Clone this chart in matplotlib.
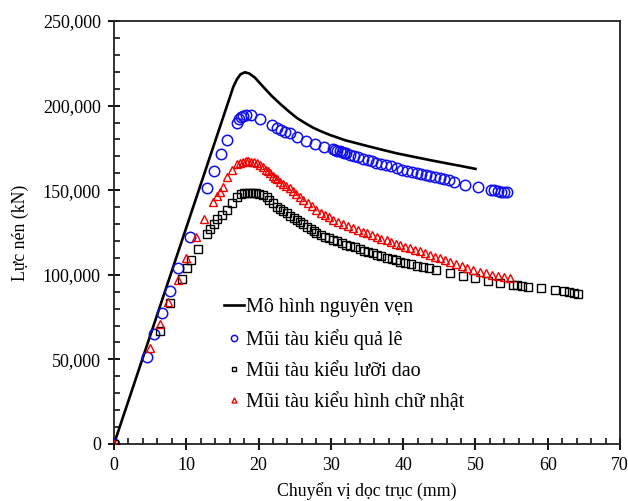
import matplotlib
matplotlib.use("Agg")
import matplotlib.pyplot as plt
from matplotlib.ticker import MultipleLocator, FuncFormatter

# ---- data ----
model_x = [0, 16.5, 17.0, 17.5, 18.1, 18.7, 19.5, 20.6, 21.8, 23.0, 24.2, 25.3, 26.5, 27.6,
           28.8, 29.9, 32.0, 34.5, 37.0, 39.1, 41.5, 43.7, 46.0, 48.0, 50.0]
model_y = [0, 211000, 215500, 218500, 219700, 219000, 216500, 211300, 205800, 201000, 196500,
           192700, 189500, 186800, 184500, 182600, 179500, 176700, 174000, 171800, 169700,
           167800, 165900, 164300, 162600]

pear_x = [0, 4.5, 5.6, 6.6, 7.7, 8.8, 10.5, 12.9, 13.8, 14.8, 15.7, 17.0, 17.3, 17.6, 17.9,
          18.3, 19.0, 20.2, 21.9, 22.5, 23.1, 23.7, 24.3, 25.3, 26.6, 27.8, 29.1, 30.3, 30.6,
          30.9, 31.2, 31.5, 31.8, 32.1, 32.6, 33.2, 33.8, 34.5, 35.1, 35.7, 36.3, 37.0, 37.6,
          38.3, 39.1, 39.8, 40.5, 41.2, 41.9, 42.5, 43.1, 43.7, 44.4, 45.1, 45.7, 46.3, 47.1,
          48.5, 50.4, 52.1, 52.6, 53.1, 53.6, 54.0, 54.3]
pear_y = [0, 51600, 64800, 77600, 90600, 103800, 122500, 151100, 161300, 171200, 179700,
          189900, 192000, 193300, 194000, 194300, 194400, 192100, 188500, 187000, 185800,
          184600, 183600, 181300, 179300, 177300, 175800, 174200, 173700, 173300, 172900,
          172500, 172100, 171700, 171000, 170300, 169500, 168400, 167800, 167000, 166300,
          165600, 164900, 164100, 162900, 162200, 161500, 160800, 160100, 159600, 159200,
          158600, 158000, 157400, 156800, 156300, 155100, 153200, 151700, 150300, 149900,
          149500, 149200, 148900, 148700]

blade_x = [0, 6.4, 7.7, 9.4, 10.1, 10.7, 11.6, 12.9, 13.3, 13.8, 14.2, 14.9, 15.6, 16.3, 17.0,
           17.5, 18.0, 18.4, 18.8, 19.2, 19.7, 20.1, 20.6, 21.1, 21.5, 22.0, 22.5, 22.9, 23.4,
           23.9, 24.4, 24.9, 25.3, 25.7, 26.2, 26.7, 27.2, 27.6, 28.0, 28.6, 29.2, 29.8, 30.3,
           30.9, 31.5, 32.1, 32.7, 33.3, 34.0, 34.6, 35.2, 35.8, 36.4, 37.0, 37.7, 38.4, 39.0,
           39.6, 40.3, 41.1, 41.9, 42.7, 43.6, 44.6, 46.5, 48.3, 49.9, 51.8, 53.4, 55.2, 55.8,
           56.5, 57.3, 59.1, 61.0, 62.2, 62.9, 63.6, 64.2]
blade_y = [0, 67000, 83200, 97300, 103800, 108700, 115100, 124100, 127000, 130000, 132800,
           135300, 138300, 142600, 146200, 147500, 148100, 148300, 148300, 148300, 148200,
           147800, 147000, 146200, 144500, 142700, 140300, 139000, 137700, 136400, 134900,
           133400, 132300, 131400, 130000, 128500, 127100, 126000, 125000, 123800, 122600,
           121500, 120600, 119700, 118800, 117900, 117000, 116200, 115200, 114300, 113400,
           112600, 111800, 111000, 110200, 109300, 108600, 107800, 107100, 106200, 105400,
           104600, 103800, 102800, 100900, 99300, 97900, 96500, 95000, 94000, 93700, 93400,
           93000, 92200, 91000, 90400, 89900, 89300, 88700]

rect_x = [0, 5.0, 6.3, 7.5, 8.8, 10.0, 11.3, 12.5, 13.7, 14.2, 14.7, 15.1, 15.7, 16.3, 17.0,
          17.4, 17.8, 18.2, 18.6, 19.0, 19.4, 19.8, 20.2, 20.6, 21.0, 21.3, 21.6, 22.0, 22.3,
          22.6, 23.0, 23.4, 23.8, 24.3, 24.8, 25.2, 25.7, 26.2, 26.8, 27.4, 28.0, 28.6, 29.2,
          29.8, 30.3, 31.0, 31.7, 32.4, 33.1, 33.8, 34.4, 35.0, 35.7, 36.4, 37.0, 37.7, 38.3,
          39.0, 39.6, 40.3, 40.9, 41.6, 42.3, 43.0, 43.7, 44.4, 45.1, 45.8, 46.5, 47.3, 48.1,
          48.9, 49.7, 50.6, 51.4, 52.3, 53.1, 54.0, 54.8]
rect_y = [0, 56500, 70700, 84100, 97100, 109700, 122200, 132800, 143200, 146400, 149200,
          152100, 157600, 161900, 165500, 166300, 166800, 167000, 167000, 166900, 166700,
          166000, 164900, 163500, 162200, 161200, 160000, 158600, 157500, 156400, 155100,
          153900, 152700, 151100, 149400, 148000, 146200, 144500, 142500, 140400, 138300,
          136800, 135500, 134100, 132400, 131100, 129900, 128700, 127500, 126400, 125400,
          124500, 123400, 122300, 121300, 120300, 119300, 118400, 117600, 116600, 115700,
          114800, 113800, 112700, 111700, 110700, 109800, 108800, 107800, 106600, 105400,
          104300, 103100, 101900, 101000, 100100, 99200, 98500, 97900]

labels = ["Mô hình nguyên vẹn", "Mũi tàu kiểu quả lê",
          "Mũi tàu kiểu lưỡi dao", "Mũi tàu kiểu hình chữ nhật"]

plt.rcParams['font.family'] = ['Liberation Serif', 'DejaVu Serif']

fig = plt.figure(figsize=(6.28, 5.01), dpi=100)
ax = fig.add_axes([114/628, 1-444/501, (620-114)/628, (444-21)/501])

ax.plot(model_x, model_y, color='black', lw=1.9, label=labels[0], zorder=2)
ax.plot(pear_x, pear_y, ls='none', marker='o', ms=7.5, mfc='none', mec='#1010ee', mew=1.1,
        label=labels[1], zorder=3)
ax.plot(blade_x, blade_y, ls='none', marker='s', ms=6, mfc='none', mec='black', mew=1.0,
        label=labels[2], zorder=3)
ax.plot(rect_x, rect_y, ls='none', marker='^', ms=6, mfc='none', mec='#ee0000', mew=1.0,
        label=labels[3], zorder=3)

ax.set_xlim(0, 70)
ax.set_ylim(0, 250000)
ax.xaxis.set_major_locator(MultipleLocator(10))
ax.xaxis.set_minor_locator(MultipleLocator(2))
ax.yaxis.set_major_locator(MultipleLocator(50000))
ax.yaxis.set_minor_locator(MultipleLocator(10000))
ax.yaxis.set_major_formatter(FuncFormatter(lambda v, p: f"{int(v):,}"))

for s in ax.spines.values():
    s.set_linewidth(1.3)
    s.set_color('#222222')
ax.tick_params(which='major', direction='inout', length=9, width=1.3, labelsize=13,
               top=False, right=False, pad=5)
ax.tick_params(which='minor', direction='in', length=4.5, width=1.1, top=False, right=False)

ax.set_xlabel("Chuyển vị dọc trục (mm)", fontsize=12.8, labelpad=6)
ax.set_ylabel("Lực nén (kN)", fontsize=12.8, labelpad=10)

leg = ax.legend(loc='upper left', bbox_to_anchor=((224-114)/506, (444-298)/423),
                frameon=False, fontsize=14.5, handlelength=1.0, handletextpad=0.1,
                labelspacing=0.6, borderpad=0, borderaxespad=0, markerscale=0.6)

fig.savefig("out.png", dpi=100)
